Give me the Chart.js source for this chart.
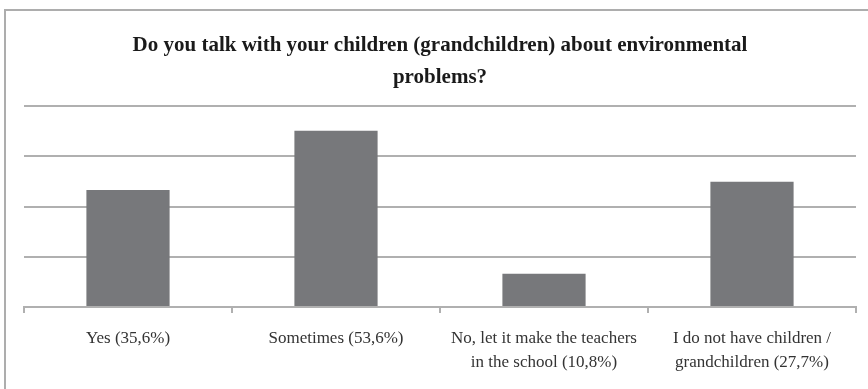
<!DOCTYPE html>
<html>
<head>
<meta charset="utf-8">
<script src="https://cdn.jsdelivr.net/npm/chart.js@4/dist/chart.umd.min.js"></script>
<style>
  html, body { margin: 0; padding: 0; background: #fff; overflow: hidden; }
  #frame { position: absolute; left: 4px; top: 9px; width: 880px; height: 400px;
           border-left: 2px solid #adadad; border-top: 2px solid #adadad; }
  #wrap { position: absolute; left: 0; top: 0; width: 868px; height: 389px; }
</style>
</head>
<body>
<div id="frame"></div>
<div id="wrap"><canvas id="c" width="868" height="389"></canvas></div>
<script>
const titleLines = ["Do you talk with your children (grandchildren) about environmental", "problems?"];
const categories = [
  "Yes (35,6%)",
  "Sometimes (53,6%)",
  ["No, let it make the teachers", "in the school (10,8%)"],
  ["I do not have children /", "grandchildren (27,7%)"]
];
const values = [34.9, 52.6, 9.9, 37.4];
const yMax = 60;
const yStep = 15;

const gridColor = '#b0b0b0';

new Chart(document.getElementById('c'), {
  type: 'bar',
  data: {
    labels: categories,
    datasets: [{
      data: values,
      backgroundColor: '#77787b',
      borderWidth: 0,
      barPercentage: 0.4,
      categoryPercentage: 1.0
    }]
  },
  options: {
    responsive: false,
    animation: false,
    devicePixelRatio: 1,
    layout: { padding: { left: 24, right: 12, top: 10, bottom: 0 } },
    plugins: {
      legend: { display: false },
      tooltip: { enabled: false },
      title: {
        display: true,
        text: titleLines,
        color: '#1a1a1a',
        font: { family: '"Liberation Serif", "Times New Roman", serif', size: 21, weight: 'bold', lineHeight: 32 / 21 },
        padding: { top: 20, bottom: 12 }
      }
    },
    scales: {
      x: {
        grid: { display: true, drawOnChartArea: false, drawTicks: true, tickLength: 6, color: gridColor, lineWidth: 2, offset: true },
        border: { display: true, color: gridColor, width: 2 },
        ticks: {
          color: '#333333',
          padding: 14,
          maxRotation: 0,
          autoSkip: false,
          font: { family: '"Liberation Serif", "Times New Roman", serif', size: 17, lineHeight: 24 / 17 }
        }
      },
      y: {
        min: 0,
        max: yMax,
        ticks: { display: false, stepSize: yStep },
        grid: { color: gridColor, lineWidth: 2, drawTicks: false },
        border: { display: false }
      }
    }
  }
});
</script>
</body>
</html>
